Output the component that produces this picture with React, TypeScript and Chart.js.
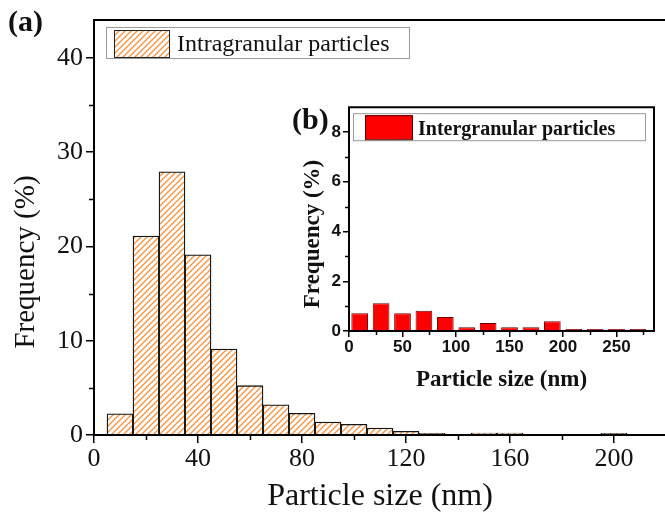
import React, { useEffect, useRef } from "react";
import { Chart, registerables } from "chart.js";

Chart.register(...registerables);

// ---------- data ----------
const intraBinCenters = [10, 20, 30, 40, 50, 60, 70, 80, 90, 100, 110, 120, 130, 140, 150, 160, 170, 180, 190, 200, 210];
const intraFrequency = [2.25, 21.1, 27.9, 19.1, 9.12, 5.23, 3.21, 2.3, 1.38, 1.13, 0.74, 0.39, 0.17, 0.06, 0.2, 0.2, 0.03, 0, 0, 0.18, 0.03];

const interBinCenters = [10, 30, 50, 70, 90, 110, 130, 150, 170, 190, 210, 230, 250, 270];
const interFrequency = [0.71, 1.12, 0.71, 0.81, 0.56, 0.15, 0.32, 0.15, 0.15, 0.39, 0.08, 0.08, 0.08, 0.08];

const mainXMajorTicks = [0, 40, 80, 120, 160, 200];
const mainXMinorTicks = [20, 60, 100, 140, 180, 220];
const mainYMajorTicks = [0, 10, 20, 30, 40];
const mainYMinorTicks = [5, 15, 25, 35];

const insetXMajorTicks = [0, 50, 100, 150, 200, 250];
const insetXMinorTicks = [25, 75, 125, 175, 225, 275];
const insetYMajorTicks = [0, 2, 4, 6, 8];
const insetYMinorTicks = [1, 3, 5, 7];

const intraLabel = "Intragranular particles";
const interLabel = "Intergranular particles";
const xTitle = "Particle size (nm)";
const yTitle = "Frequency (%)";

const SERIF = '"Liberation Serif", "Times New Roman", serif';
const SANS = '"Liberation Sans", Arial, sans-serif';
const ORANGE = "#f7913a";
const TEXT = "#111";

function makeHatch(): CanvasPattern | string {
  const s = 6;
  const c = document.createElement("canvas");
  c.width = s;
  c.height = s;
  const g = c.getContext("2d");
  if (!g) return ORANGE;
  g.fillStyle = "#fff";
  g.fillRect(0, 0, s, s);
  g.strokeStyle = ORANGE;
  g.lineWidth = 1.3;
  g.beginPath();
  g.moveTo(0, s);
  g.lineTo(s, 0);
  g.moveTo(-1, 1);
  g.lineTo(1, -1);
  g.moveTo(s - 1, s + 1);
  g.lineTo(s + 1, s - 1);
  g.stroke();
  const p = g.createPattern(c, "repeat");
  return p || ORANGE;
}

type FrameCfg = {
  xMinor: number[];
  yMinor: number[];
  minorLen: number;
  frameWidth: number;
  drawRight: boolean;
};

function framePlugin(cfg: FrameCfg) {
  return {
    id: "frameMinor",
    afterDraw(chart: any) {
      const { ctx, chartArea: a, scales } = chart;
      const x = scales.x;
      const y = scales.y;
      ctx.save();
      ctx.strokeStyle = "#000";
      ctx.lineWidth = 1.5;
      ctx.beginPath();
      cfg.xMinor.forEach((v) => {
        const px = Math.round(x.getPixelForValue(v)) + 0.5;
        if (px > a.right + 1) return;
        ctx.moveTo(px, a.bottom);
        ctx.lineTo(px, a.bottom + cfg.minorLen);
      });
      cfg.yMinor.forEach((v) => {
        const py = Math.round(y.getPixelForValue(v)) + 0.5;
        ctx.moveTo(a.left, py);
        ctx.lineTo(a.left - cfg.minorLen, py);
      });
      ctx.stroke();
      ctx.lineWidth = cfg.frameWidth;
      ctx.lineCap = "square";
      ctx.beginPath();
      ctx.moveTo(a.right, a.top);
      ctx.lineTo(a.left, a.top);
      ctx.lineTo(a.left, a.bottom);
      ctx.lineTo(a.right, a.bottom);
      if (cfg.drawRight) ctx.lineTo(a.right, a.top);
      ctx.stroke();
      ctx.restore();
    },
  };
}

function MainChart() {
  const ref = useRef<HTMLCanvasElement | null>(null);
  useEffect(() => {
    if (!ref.current) return;
    const hatch = makeHatch();
    const textPlugin = {
      id: "mainText",
      afterDraw(chart: any) {
        const { ctx, chartArea: a } = chart;
        ctx.save();
        // legend
        const lx = a.left + 12;
        const ly = a.top + 7;
        ctx.strokeStyle = "#9a9a9a";
        ctx.lineWidth = 1;
        ctx.strokeRect(lx + 0.5, ly + 0.5, 303, 31);
        ctx.fillStyle = hatch as any;
        ctx.fillRect(lx + 8, ly + 3, 55, 27);
        ctx.strokeStyle = "#222";
        ctx.strokeRect(lx + 8.5, ly + 3.5, 55, 27);
        ctx.fillStyle = TEXT;
        ctx.font = `24px ${SERIF}`;
        ctx.textBaseline = "alphabetic";
        ctx.textAlign = "left";
        ctx.fillText(chart.data.datasets[0].label, lx + 71, ly + 24);
        // (a)
        ctx.font = `bold 30px ${SERIF}`;
        ctx.fillText("(a)", 8, 31);
        // y title
        ctx.font = `29px ${SERIF}`;
        ctx.translate(26, 262);
        ctx.rotate(-Math.PI / 2);
        ctx.textAlign = "center";
        ctx.textBaseline = "middle";
        ctx.fillText(yTitle, 0, 0);
        ctx.restore();
      },
    };
    const chart = new Chart(ref.current, {
      type: "bar",
      data: {
        datasets: [
          {
            label: intraLabel,
            data: intraBinCenters.map((x, i) => ({ x, y: intraFrequency[i] })),
            backgroundColor: hatch as any,
            borderColor: "#151515",
            borderWidth: 1.3,
            barPercentage: 1,
            categoryPercentage: 1,
          },
        ],
      },
      options: {
        animation: false,
        responsive: false,
        devicePixelRatio: 1,
        layout: { padding: { left: 0, top: 20, right: 2, bottom: 0 } },
        plugins: { legend: { display: false }, tooltip: { enabled: false } },
        scales: {
          x: {
            type: "linear",
            min: 0,
            max: 220,
            offset: false,
            afterBuildTicks: (s: any) => {
              s.ticks = mainXMajorTicks.map((v) => ({ value: v }));
            },
            afterFit: (s: any) => {
              s.height = 80;
            },
            grid: { display: true, drawOnChartArea: false, offset: false, tickLength: 8, color: "#000", lineWidth: 1.5 },
            border: { display: false },
            ticks: { font: { family: SERIF, size: 26 }, color: TEXT, padding: 1, maxRotation: 0 },
            title: {
              display: true,
              text: xTitle,
              font: { family: SERIF, size: 32, lineHeight: 1 },
              color: TEXT,
              padding: { top: 0, bottom: 2 },
            },
          },
          y: {
            type: "linear",
            min: 0,
            max: 44,
            afterBuildTicks: (s: any) => {
              s.ticks = mainYMajorTicks.map((v) => ({ value: v }));
            },
            afterFit: (s: any) => {
              s.width = 94;
            },
            grid: { display: true, drawOnChartArea: false, tickLength: 8, color: "#000", lineWidth: 1.5 },
            border: { display: false },
            ticks: { font: { family: SERIF, size: 26 }, color: TEXT, padding: 3 },
          },
        },
      },
      plugins: [
        framePlugin({ xMinor: mainXMinorTicks, yMinor: mainYMinorTicks, minorLen: 5, frameWidth: 2, drawRight: false }),
        textPlugin,
      ],
    });
    return () => chart.destroy();
  }, []);
  return <canvas ref={ref} width={668} height={515} style={{ display: "block", position: "absolute", left: 0, top: 0 }} />;
}

function InsetChart() {
  const ref = useRef<HTMLCanvasElement | null>(null);
  useEffect(() => {
    if (!ref.current) return;
    const textPlugin = {
      id: "insetText",
      afterDraw(chart: any) {
        const { ctx, chartArea: a } = chart;
        ctx.save();
        const lx = a.left + 4;
        const ly = a.top + 6;
        ctx.strokeStyle = "#9a9a9a";
        ctx.lineWidth = 1;
        ctx.strokeRect(lx + 0.5, ly + 0.5, 292, 27);
        ctx.fillStyle = chart.data.datasets[0].backgroundColor;
        ctx.fillRect(lx + 12, ly + 2, 47, 24);
        ctx.strokeStyle = "#5a0000";
        ctx.strokeRect(lx + 12.5, ly + 2.5, 47, 24);
        ctx.fillStyle = TEXT;
        ctx.font = `bold 20px ${SERIF}`;
        ctx.textAlign = "left";
        ctx.textBaseline = "alphabetic";
        ctx.fillText(chart.data.datasets[0].label, lx + 65, ly + 22);
        // (b)
        ctx.font = `bold 30px ${SERIF}`;
        ctx.fillText("(b)", 12, 34);
        // y title
        ctx.font = `bold 23px ${SERIF}`;
        ctx.translate(33, 139);
        ctx.rotate(-Math.PI / 2);
        ctx.textAlign = "center";
        ctx.textBaseline = "middle";
        ctx.fillText(yTitle, 0, 0);
        ctx.restore();
      },
    };
    const chart = new Chart(ref.current, {
      type: "bar",
      data: {
        datasets: [
          {
            label: interLabel,
            data: interBinCenters.map((x, i) => ({ x, y: interFrequency[i] })),
            backgroundColor: "#ff0000",
            borderColor: "#6a0000",
            borderWidth: 1,
            borderSkipped: "start",
            barPercentage: 0.78,
            categoryPercentage: 1,
          },
        ],
      },
      options: {
        animation: false,
        responsive: false,
        devicePixelRatio: 1,
        layout: { padding: { left: 0, top: 12, right: 11, bottom: 0 } },
        plugins: { legend: { display: false }, tooltip: { enabled: false } },
        scales: {
          x: {
            type: "linear",
            min: 0,
            max: 285,
            offset: false,
            afterBuildTicks: (s: any) => {
              s.ticks = insetXMajorTicks.map((v) => ({ value: v }));
            },
            afterFit: (s: any) => {
              s.height = 69;
            },
            grid: { display: true, drawOnChartArea: false, offset: false, tickLength: 6, color: "#000", lineWidth: 1.5 },
            border: { display: false },
            ticks: { font: { family: SANS, size: 17, weight: "bold" }, color: TEXT, padding: 0, maxRotation: 0 },
            title: {
              display: true,
              text: xTitle,
              font: { family: SERIF, size: 23, weight: "bold", lineHeight: 1 },
              color: TEXT,
              padding: { top: 0, bottom: 8 },
            },
          },
          y: {
            type: "linear",
            min: 0,
            max: 9,
            afterBuildTicks: (s: any) => {
              s.ticks = insetYMajorTicks.map((v) => ({ value: v }));
            },
            afterFit: (s: any) => {
              s.width = 69;
            },
            grid: { display: true, drawOnChartArea: false, tickLength: 6, color: "#000", lineWidth: 1.5 },
            border: { display: false },
            ticks: { font: { family: SANS, size: 17, weight: "bold" }, color: TEXT, padding: 2 },
          },
        },
      },
      plugins: [
        framePlugin({ xMinor: insetXMinorTicks, yMinor: insetYMinorTicks, minorLen: 4, frameWidth: 2, drawRight: true }),
        textPlugin,
      ],
    });
    return () => chart.destroy();
  }, []);
  return <canvas ref={ref} width={385} height={305} style={{ display: "block", position: "absolute", left: 280, top: 95 }} />;
}

export default function App() {
  useEffect(() => {
    document.body.style.margin = "0";
    document.body.style.overflow = "hidden";
  }, []);
  return (
    <div style={{ position: "relative", width: 665, height: 515, overflow: "hidden", background: "#fff" }}>
      <MainChart />
      <InsetChart />
    </div>
  );
}
